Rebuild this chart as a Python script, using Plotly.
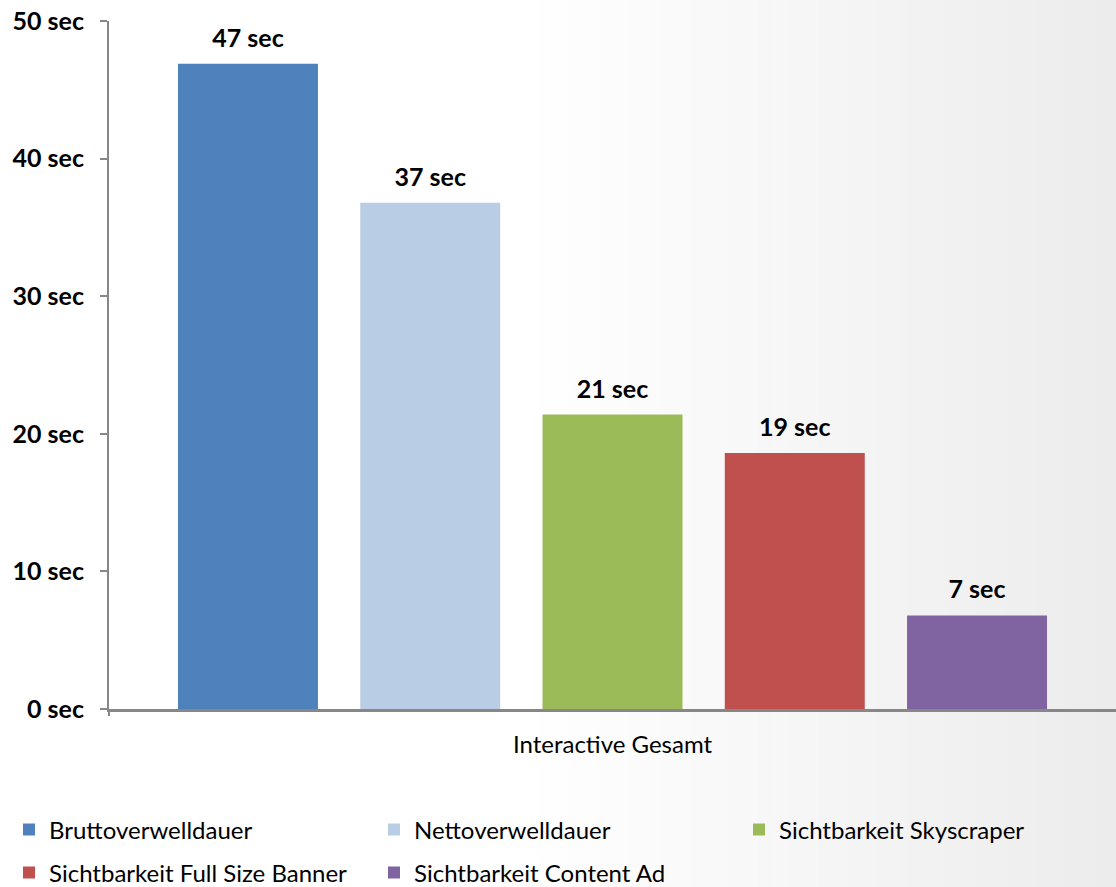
import plotly.graph_objects as go

category = ["Interactive Gesamt"]
series_names = ["Bruttoverwelldauer", "Nettoverwelldauer", "Sichtbarkeit Skyscraper",
                "Sichtbarkeit Full Size Banner", "Sichtbarkeit Content Ad"]
series_values = [46.9, 36.8, 21.4, 18.6, 6.8]
series_colors = ["#4F81BD", "#B9CDE5", "#9BBB59", "#C0504D", "#8064A2"]
y_ticks = [0, 10, 20, 30, 40, 50]
y_ticklabels = [f"{v} sec" for v in y_ticks]

W, H = 1116, 887
L, R, T, B = 109, 0, 21, 178
FONT = "Lato"
AXIS_GRAY = "#878787"

fig = go.Figure()
for i, (name, val, col) in enumerate(zip(series_names, series_values, series_colors)):
    fig.add_trace(go.Bar(
        x=category, y=[val], name=name,
        marker=dict(color=col, line=dict(width=0)),
        text=[f"{round(val)} sec"],
        texttemplate="<span style='font-size:25px'>%{text}</span><br><span style='font-size:6px'>&nbsp;</span>",
        textposition="outside",
        textfont=dict(family=FONT, size=10, color="black", weight="bold"),
        cliponaxis=False,
        legend="legend" if i < 3 else "legend2",
    ))

# background gradient strips (white -> light gray toward the right)
pw = W - L - R
ph = H - T - B
x_start, x_end = 520, W
n = 60
for k in range(n):
    x0 = x_start + (x_end - x_start) * k / n
    x1 = x_start + (x_end - x_start) * (k + 1) / n + 1
    g = round(255 - 19 * (k + 0.5) / n)
    fig.add_shape(type="rect", xref="paper", yref="paper",
                  x0=(x0 - L) / pw, x1=(x1 - L) / pw,
                  y0=(H - B - H) / ph, y1=(H - B) / ph,
                  fillcolor=f"rgb({g},{g},{g})", line=dict(width=0), layer="below")
# small boundary tick at left end of the x axis
fig.add_shape(type="line", xref="paper", yref="paper", x0=0, x1=0, y0=0, y1=-7 / ph,
              line=dict(color=AXIS_GRAY, width=2))

leg_common = dict(orientation="h", xanchor="left", yanchor="middle",
                  entrywidth=320, entrywidthmode="pixels", bgcolor="rgba(0,0,0,0)",
                  font=dict(family=FONT, size=24, color="black"), traceorder="normal")

fig.update_layout(
    width=W, height=H,
    margin=dict(l=L, r=R, t=T, b=B, pad=0, autoexpand=False),
    paper_bgcolor="white", plot_bgcolor="rgba(0,0,0,0)",
    barmode="group", bargap=0.095, bargroupgap=0.232,
    font=dict(family=FONT, size=24, color="black"),
    showlegend=True,
    legend=dict(x=(9 - L) / pw, y=(H - B - 830) / ph, **leg_common),
    legend2=dict(x=(9 - L) / pw, y=(H - B - 873) / ph, **leg_common),
    xaxis=dict(type="category", showline=True, linecolor=AXIS_GRAY, linewidth=3,
               ticks="", showgrid=False, zeroline=False, automargin=False,
               tickfont=dict(family=FONT, size=24, color="black"), ticklabelstandoff=12),
    yaxis=dict(range=[0, 50], tickvals=y_ticks, ticktext=y_ticklabels,
               showline=True, linecolor=AXIS_GRAY, linewidth=2, automargin=False,
               ticks="outside", ticklen=7, tickwidth=2, tickcolor=AXIS_GRAY,
               showgrid=False, zeroline=False, ticklabelstandoff=11,
               tickfont=dict(family=FONT, size=25, color="black", weight="bold")),
)

fig.write_html("out.html")
